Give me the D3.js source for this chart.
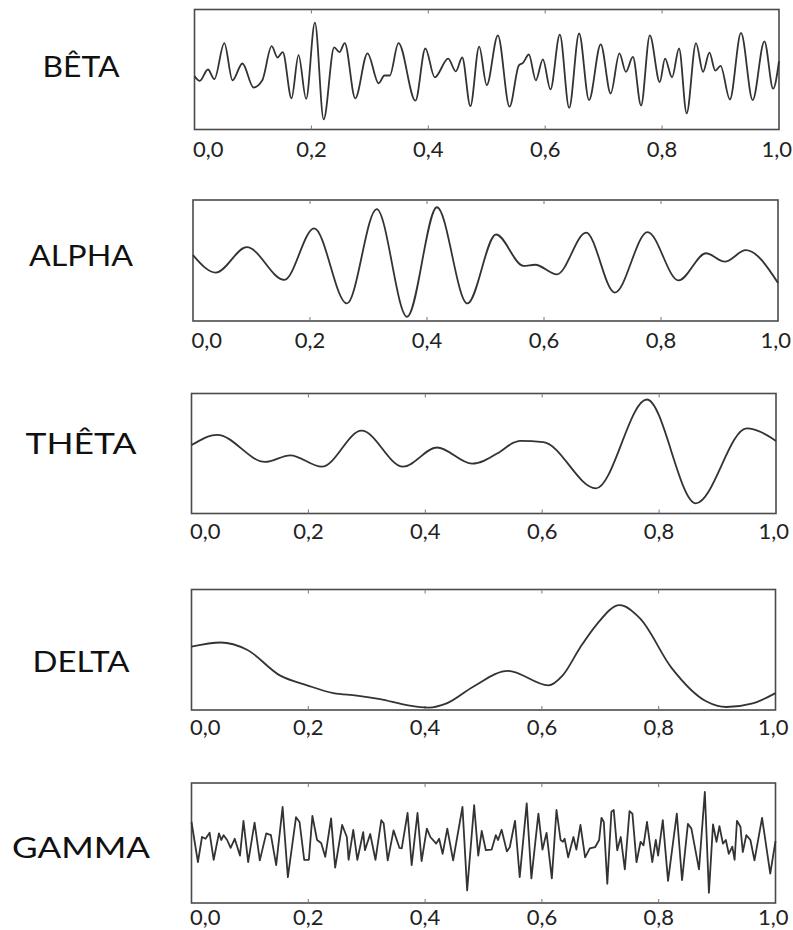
<!DOCTYPE html>
<html>
<head>
<meta charset="utf-8">
<script src="https://cdn.jsdelivr.net/npm/d3@7"></script>
<style>
  body { margin: 0; background: #fff; }
</style>
</head>
<body>
<div id="chart"></div>
<script>
// band names and x ticks
const bandNames = ["BÊTA", "ALPHA", "THÊTA", "DELTA", "GAMMA"];
const tickValues = [0, 0.2, 0.4, 0.6, 0.8, 1.0];

// values: time (s) and amplitude (normalised -1..1)
const betaTime = [0, 0.009, 0.023, 0.034, 0.051, 0.065, 0.082, 0.101, 0.116, 0.132,
  0.142, 0.151, 0.166, 0.178, 0.191, 0.206, 0.221, 0.239, 0.248, 0.257,
  0.275, 0.296, 0.315, 0.325, 0.334, 0.349, 0.378, 0.395, 0.411, 0.434,
  0.447, 0.458, 0.472, 0.487, 0.500, 0.519, 0.539, 0.555, 0.562, 0.572,
  0.584, 0.596, 0.609, 0.625, 0.641, 0.658, 0.675, 0.695, 0.712, 0.727,
  0.738, 0.750, 0.764, 0.779, 0.796, 0.805, 0.817, 0.829, 0.842, 0.858,
  0.870, 0.881, 0.891, 0.900, 0.916, 0.935, 0.955, 0.975, 0.990, 1.0];
const betaAmp = [-0.11, -0.19, 0.0, -0.16, 0.44, -0.18, 0.10, -0.30, -0.18, 0.39,
  0.20, 0.29, -0.48, 0.24, -0.49, 0.78, -0.83, 0.37, 0.29, 0.44,
  -0.48, 0.27, -0.23, -0.10, -0.10, 0.44, -0.52, 0.35, -0.13, 0.18,
  -0.03, 0.20, -0.61, 0.38, -0.26, 0.57, -0.62, 0.07, 0.11, 0.25,
  -0.18, 0.17, -0.33, 0.58, -0.64, 0.60, -0.51, 0.42, -0.40, 0.27,
  -0.04, 0.21, -0.60, 0.57, -0.21, 0.18, -0.13, 0.35, -0.73, 0.44,
  -0.04, 0.28, -0.02, 0.06, -0.50, 0.61, -0.51, 0.47, -0.32, 0.14];

const alphaTime = [0, 0.039, 0.092, 0.156, 0.207, 0.263, 0.314, 0.366, 0.417, 0.469,
  0.518, 0.565, 0.585, 0.622, 0.672, 0.721, 0.777, 0.830, 0.877, 0.909, 0.945, 1.0];
const alphaAmp = [0.09, -0.20, 0.22, -0.32, 0.53, -0.71, 0.85, -0.93, 0.88, -0.71,
  0.43, -0.09, -0.07, -0.23, 0.46, -0.53, 0.47, -0.33, 0.12, -0.02, 0.17, -0.37];

const thetaTime = [0, 0.044, 0.126, 0.169, 0.223, 0.291, 0.362, 0.420, 0.480, 0.528,
  0.551, 0.562, 0.602, 0.692, 0.779, 0.863, 0.950, 1.0];
const thetaAmp = [0.14, 0.31, -0.14, -0.03, -0.22, 0.38, -0.22, 0.10, -0.17, 0.03,
  0.18, 0.21, 0.19, -0.58, 0.90, -0.83, 0.42, 0.21];

const deltaTime = [0, 0.050, 0.095, 0.152, 0.198, 0.243, 0.283, 0.323, 0.369, 0.406,
  0.437, 0.483, 0.542, 0.611, 0.636, 0.665, 0.693, 0.733, 0.768, 0.822, 0.882, 0.916, 0.961, 1.0];
const deltaAmp = [0.05, 0.12, 0.0, -0.43, -0.59, -0.72, -0.76, -0.82, -0.92, -0.96,
  -0.89, -0.61, -0.35, -0.59, -0.42, 0.03, 0.41, 0.74, 0.52, -0.30, -0.86, -0.95, -0.89, -0.72];

const gammaTime = [0, 0.011, 0.018, 0.024, 0.031, 0.038, 0.047, 0.051, 0.055, 0.061,
  0.067, 0.074, 0.083, 0.089, 0.097, 0.108, 0.117, 0.128, 0.136, 0.145,
  0.156, 0.165, 0.179, 0.185, 0.193, 0.201, 0.207, 0.215, 0.222, 0.229,
  0.239, 0.246, 0.258, 0.266, 0.269, 0.277, 0.284, 0.294, 0.297, 0.306,
  0.315, 0.325, 0.329, 0.336, 0.346, 0.356, 0.360, 0.370, 0.377, 0.387,
  0.394, 0.403, 0.409, 0.419, 0.424, 0.430, 0.438, 0.448, 0.464, 0.472,
  0.484, 0.491, 0.497, 0.504, 0.514, 0.521, 0.525, 0.531, 0.540, 0.545,
  0.554, 0.562, 0.574, 0.582, 0.594, 0.601, 0.608, 0.617, 0.625, 0.632,
  0.636, 0.639, 0.645, 0.654, 0.659, 0.666, 0.674, 0.682, 0.691, 0.698,
  0.702, 0.706, 0.712, 0.719, 0.723, 0.729, 0.735, 0.742, 0.750, 0.755,
  0.762, 0.769, 0.774, 0.780, 0.789, 0.795, 0.799, 0.807, 0.816, 0.831,
  0.840, 0.850, 0.856, 0.869, 0.879, 0.886, 0.893, 0.899, 0.904, 0.910,
  0.915, 0.920, 0.926, 0.930, 0.934, 0.940, 0.944, 0.950, 0.957, 0.964,
  0.977, 0.991, 1.0];
const gammaAmp = [0.35, -0.32, 0.10, 0.07, 0.17, -0.28, 0.16, 0.05, 0.13, 0.05,
  -0.08, 0.07, -0.21, 0.37, -0.32, 0.34, -0.29, 0.16, 0.13, -0.37,
  0.60, -0.57, 0.43, 0.35, -0.28, -0.28, 0.45, 0.05, 0.0, -0.23,
  0.41, -0.41, 0.30, 0.10, -0.28, 0.22, -0.28, 0.18, -0.12, 0.15,
  -0.28, 0.38, 0.33, -0.29, 0.21, -0.08, -0.09, 0.50, -0.37, 0.50,
  -0.30, 0.24, 0.10, -0.01, 0.07, -0.18, 0.24, -0.29, 0.60, -0.79,
  0.63, -0.21, 0.20, -0.12, -0.11, 0.13, 0.05, 0.22, -0.14, -0.07,
  0.37, -0.57, 0.66, -0.59, 0.49, -0.11, 0.17, -0.59, 0.55, 0.05,
  0.02, 0.07, -0.24, 0.10, -0.11, 0.30, -0.24, -0.09, -0.07, 0.05,
  0.42, 0.35, -0.68, 0.52, 0.55, -0.12, 0.10, -0.44, 0.53, 0.49,
  -0.32, 0.02, -0.04, 0.35, -0.32, 0.05, -0.21, 0.38, -0.63, 0.49,
  -0.62, 0.32, 0.24, -0.44, 0.85, -0.83, 0.31, 0.02, 0.28, -0.01,
  0.05, -0.18, -0.06, -0.28, 0.37, 0.27, -0.15, 0.13, 0.05, -0.29,
  0.42, -0.51, 0.03];

function loadChart() {
  let svgWidth = 793;
  let svgHeight = 930;

  let svg = d3.select("#chart")
    .append("svg")
    .attr("width", svgWidth)
    .attr("height", svgHeight)
    .style("font-family", "Lato, 'Noto Sans', sans-serif");

  // French decimal comma for the tick labels
  let fr = d3.formatLocale({ decimal: ",", thousands: " ", grouping: [3], currency: ["", " €"] });
  let fmt = fr.format(".1f");

  // one box per band
  let panels = [
    { time: betaTime, amp: betaAmp, left: 194.5, right: 779, top: 9.5, bottom: 129.5, curve: d3.curveMonotoneX, tickY: 157, labelY: 77, labelW: 77 },
    { time: alphaTime, amp: alphaAmp, left: 193, right: 778, top: 200, bottom: 321, curve: d3.curveMonotoneX, tickY: 348, labelY: 266, labelW: 104 },
    { time: thetaTime, amp: thetaAmp, left: 191.5, right: 776, top: 393.5, bottom: 513.5, curve: d3.curveMonotoneX, tickY: 539, labelY: 454, labelW: 111 },
    { time: deltaTime, amp: deltaAmp, left: 191.5, right: 775.5, top: 589.5, bottom: 710, curve: d3.curveMonotoneX, tickY: 735, labelY: 672, labelW: 97 },
    { time: gammaTime, amp: gammaAmp, left: 191.5, right: 775.5, top: 783, bottom: 903, curve: d3.curveLinear, tickY: 925, labelY: 858, labelW: 138 }
  ];

  panels.forEach(function(p, i) {
    let x = d3.scaleLinear().domain([0, 1]).range([p.left, p.right]);
    let y = d3.scaleLinear().domain([-1, 1]).range([p.bottom, p.top]);
    let data = d3.zip(p.time, p.amp);

    let g = svg.append("g");

    // frame
    g.append("rect")
      .attr("x", p.left)
      .attr("y", p.top)
      .attr("width", p.right - p.left)
      .attr("height", p.bottom - p.top)
      .attr("fill", "none")
      .attr("stroke", "#4a4a4a")
      .attr("stroke-width", 1.6);

    // inner ticks, bottom and top
    let inner = tickValues.slice(1, -1);
    g.append("g").selectAll("line")
      .data(inner)
      .enter()
      .append("line")
      .attr("x1", d => x(d)).attr("x2", d => x(d))
      .attr("y1", p.bottom).attr("y2", p.bottom - 4)
      .attr("stroke", "#777").attr("stroke-width", 1);
    g.append("g").selectAll("line")
      .data(inner)
      .enter()
      .append("line")
      .attr("x1", d => x(d)).attr("x2", d => x(d))
      .attr("y1", p.top).attr("y2", p.top + 4)
      .attr("stroke", "#777").attr("stroke-width", 1);

    // tick labels
    let last = tickValues.length - 1;
    g.append("g").selectAll("text")
      .data(tickValues)
      .enter()
      .append("text")
      .attr("x", (d, j) => j === 0 ? x(d) - 1.5 : (j === last ? x(d) + 13 : x(d)))
      .attr("y", p.tickY)
      .attr("text-anchor", (d, j) => j === 0 ? "start" : (j === last ? "end" : "middle"))
      .attr("font-size", "22px")
      .attr("fill", "#222")
      .text(d => fmt(d));

    // signal
    let line = d3.line()
      .x(d => x(d[0]))
      .y(d => y(d[1]))
      .curve(p.curve);

    g.append("path")
      .datum(data)
      .attr("d", line)
      .attr("fill", "none")
      .attr("stroke", "#333")
      .attr("stroke-width", 1.8)
      .attr("stroke-linejoin", "round");

    // band name
    svg.append("text")
      .attr("x", 81)
      .attr("y", p.labelY)
      .attr("text-anchor", "middle")
      .attr("font-size", "29px")
      .attr("fill", "#111")
      .attr("textLength", p.labelW)
      .attr("lengthAdjust", "spacingAndGlyphs")
      .text(bandNames[i]);
  });
}

loadChart();
</script>
</body>
</html>
